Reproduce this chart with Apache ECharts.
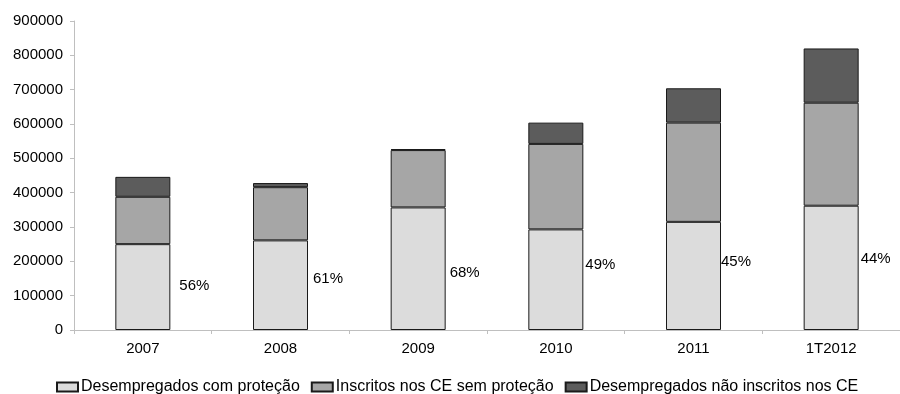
<!DOCTYPE html>
<html>
<head>
<meta charset="utf-8">
<script src="https://cdn.jsdelivr.net/npm/echarts@6/dist/echarts.min.js"></script>
<style>
  html, body { margin: 0; padding: 0; background: #ffffff; }
  #chart { width: 900px; height: 394px; }
</style>
</head>
<body>
<div id="chart"></div>
<script>
// Periods on the horizontal axis
const categories = ['2007', '2008', '2009', '2010', '2011', '1T2012'];

// Unemployed people, stacked by situation
const comProtecao = [250000, 261000, 357000, 293000, 315000, 362000];
const inscritosSemProtecao = [138000, 155000, 167000, 249000, 289000, 300000];
const naoInscritos = [58000, 12000, 3000, 62000, 100000, 158000];

// Share of unemployed with protection (%)
const sharePct = [56, 61, 68, 49, 45, 44];

// Nudges for the share labels beside each bar [dx, dy]
const shareLabelNudge = [[9, -1], [5, -6], [4, 4], [2, -15], [0, -14], [2, -9]];

const seriesNames = [
  'Desempregados com proteção',
  'Inscritos nos CE sem proteção',
  'Desempregados não inscritos nos CE'
];

const FONT = 'Liberation Sans, Arial, sans-serif';
const chart = echarts.init(document.getElementById('chart'), null, { renderer: 'canvas' });

const protectedData = comProtecao.map((v, i) => ({
  value: v,
  label: {
    show: true,
    position: 'right',
    distance: 0,
    offset: shareLabelNudge[i],
    formatter: sharePct[i] + '%',
    color: '#000',
    fontSize: 15,
    fontFamily: FONT
  }
}));

const barBase = {
  type: 'bar',
  stack: 'total',
  barWidth: 55,
  emphasis: { disabled: true }
};

chart.setOption({
  animation: false,
  backgroundColor: '#ffffff',
  textStyle: { fontFamily: FONT },
  grid: { left: 74, right: -4, top: 21, bottom: 64, containLabel: false },
  legend: {
    data: seriesNames,
    left: 51,
    top: 374,
    itemWidth: 21,
    itemHeight: 9,
    itemGap: 11,
    icon: 'rect',
    selectedMode: false,
    textStyle: { fontSize: 16, color: '#000', fontFamily: FONT, padding: [0, 0, 0, -2] }
  },
  xAxis: {
    type: 'category',
    data: categories,
    axisLine: { lineStyle: { color: '#bfbfbf', width: 1 } },
    axisTick: { show: true, length: 4, alignWithLabel: false, lineStyle: { color: '#bfbfbf' } },
    axisLabel: { color: '#000', fontSize: 15, margin: 11, fontFamily: FONT }
  },
  yAxis: {
    type: 'value',
    min: 0,
    max: 900000,
    interval: 100000,
    axisLine: { show: true, lineStyle: { color: '#bfbfbf', width: 1 } },
    axisTick: { show: true, length: 4, lineStyle: { color: '#bfbfbf' } },
    splitLine: { show: false },
    axisLabel: {
      color: '#000', fontSize: 15, margin: 11, fontFamily: FONT,
      formatter: v => String(v)
    }
  },
  series: [
    Object.assign({}, barBase, {
      name: seriesNames[0],
      data: protectedData,
      itemStyle: { color: '#dcdcdc', borderColor: '#1a1a1a', borderWidth: 1 }
    }),
    Object.assign({}, barBase, {
      name: seriesNames[1],
      data: inscritosSemProtecao,
      itemStyle: { color: '#a6a6a6', borderColor: '#1a1a1a', borderWidth: 1 }
    }),
    Object.assign({}, barBase, {
      name: seriesNames[2],
      data: naoInscritos,
      itemStyle: { color: '#5c5c5c', borderColor: '#1a1a1a', borderWidth: 1 }
    })
  ]
});
</script>
</body>
</html>
